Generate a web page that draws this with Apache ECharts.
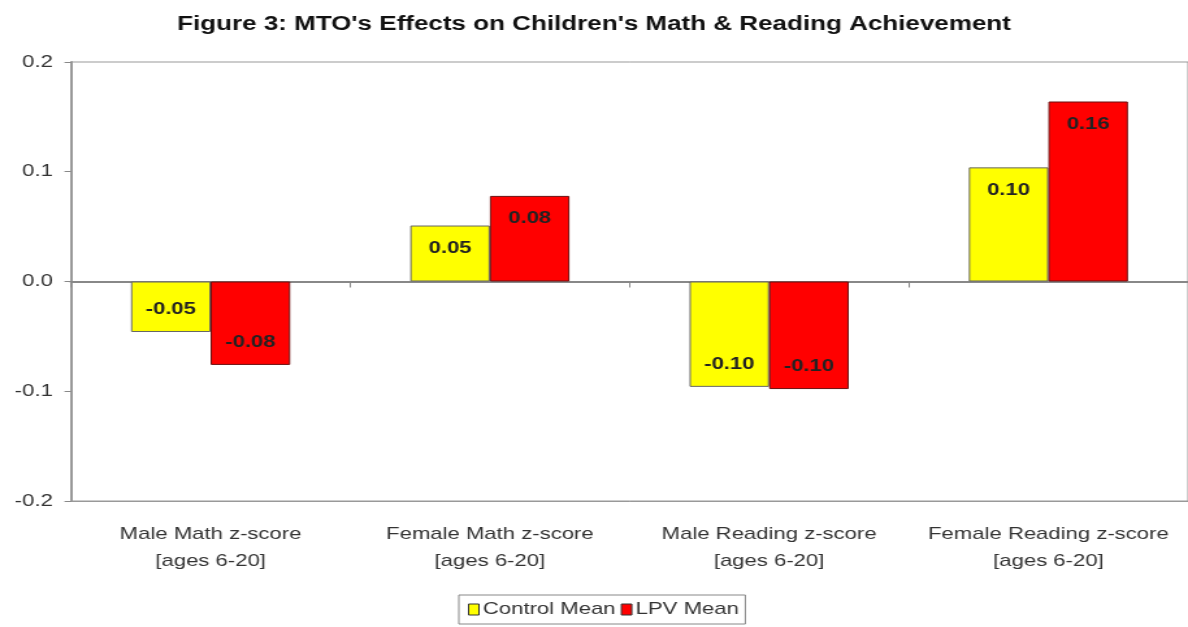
<!DOCTYPE html>
<html>
<head>
<meta charset="utf-8">
<script src="https://cdn.jsdelivr.net/npm/echarts@6/dist/echarts.min.js"></script>
<style>
  html, body { margin: 0; padding: 0; background: #fff; overflow: hidden; }
  /* The chart is laid out narrow and widened horizontally, giving the wide lettering */
  #chart { width: 914px; height: 627px; transform: scaleX(1.2998); transform-origin: 0 0; }
</style>
</head>
<body>
<div id="chart"></div>
<script>
// Outcome groups along the x axis
const categories = [
  'Male Math z-score\n[ages 6-20]',
  'Female Math z-score\n[ages 6-20]',
  'Male Reading z-score\n[ages 6-20]',
  'Female Reading z-score\n[ages 6-20]'
];
// Mean z-scores per group
const controlMean = [-0.046, 0.051, -0.096, 0.104];
const lpvMean = [-0.076, 0.078, -0.098, 0.164];
const yTicks = { min: -0.2, max: 0.2, step: 0.1 };

const FONT = '"Liberation Sans", Arial, sans-serif';

// Value label sits inside the bar, near its outer end
function withLabels(values) {
  return values.map(v => ({
    value: v,
    label: { position: v >= 0 ? 'insideTop' : 'insideBottom' }
  }));
}

const labelStyle = {
  show: true,
  distance: 14,
  color: '#222',
  fontFamily: FONT,
  fontWeight: 'bold',
  fontSize: 17,
  formatter: p => p.value.toFixed(2)
};

const chart = echarts.init(document.getElementById('chart'), null, { renderer: 'canvas' });
chart.setOption({
  backgroundColor: '#fff',
  animation: false,
  title: {
    text: "Figure 3: MTO's Effects on Children's Math & Reading Achievement",
    left: 'center',
    top: 9,
    textStyle: { fontFamily: FONT, fontWeight: 'bold', fontSize: 20, color: '#111' }
  },
  legend: {
    left: 353,
    top: 595,
    data: ['Control Mean', 'LPV Mean'],
    icon: 'rect',
    itemWidth: 8,
    itemHeight: 11,
    itemGap: 4,
    padding: [6, 5, 6, 7],
    borderColor: '#888',
    borderWidth: 1,
    itemStyle: { borderColor: '#333', borderWidth: 1 },
    textStyle: { fontFamily: FONT, fontSize: 17, color: '#333', padding: [0, 0, 0, -2] }
  },
  grid: {
    left: 54.6, right: -2, top: 62, bottom: 126,
    show: true, borderColor: '#999', borderWidth: 1
  },
  xAxis: [
    {
      type: 'category',
      data: categories,
      position: 'bottom',
      axisLine: { onZero: false, lineStyle: { color: '#999', width: 1 } },
      axisTick: { show: false },
      axisLabel: {
        interval: 0,
        fontFamily: FONT, fontSize: 17, color: '#333',
        lineHeight: 27, margin: 20
      }
    },
    {
      type: 'category',
      data: categories,
      position: 'bottom',
      axisLine: { onZero: true, lineStyle: { color: '#888', width: 2 } },
      axisTick: { show: true, length: 6, lineStyle: { color: '#888' } },
      axisLabel: { show: false }
    }
  ],
  yAxis: {
    type: 'value',
    min: yTicks.min,
    max: yTicks.max,
    interval: yTicks.step,
    axisLine: { show: true, lineStyle: { color: '#999', width: 2 } },
    axisTick: { show: true, length: 5, lineStyle: { color: '#888' } },
    splitLine: { show: false },
    axisLabel: {
      fontFamily: FONT, fontSize: 17, color: '#333', margin: 14,
      formatter: v => v.toFixed(1)
    }
  },
  series: [
    {
      name: 'Control Mean',
      type: 'bar',
      xAxisIndex: 0,
      data: withLabels(controlMean),
      barGap: '0%',
      barCategoryGap: '43%',
      itemStyle: { color: '#FFFF00', borderColor: '#666', borderWidth: 1 },
      label: labelStyle
    },
    {
      name: 'LPV Mean',
      type: 'bar',
      xAxisIndex: 0,
      data: withLabels(lpvMean),
      barGap: '0%',
      barCategoryGap: '43%',
      itemStyle: { color: '#FF0000', borderColor: '#6b1010', borderWidth: 1 },
      label: labelStyle
    }
  ]
});
</script>
</body>
</html>
